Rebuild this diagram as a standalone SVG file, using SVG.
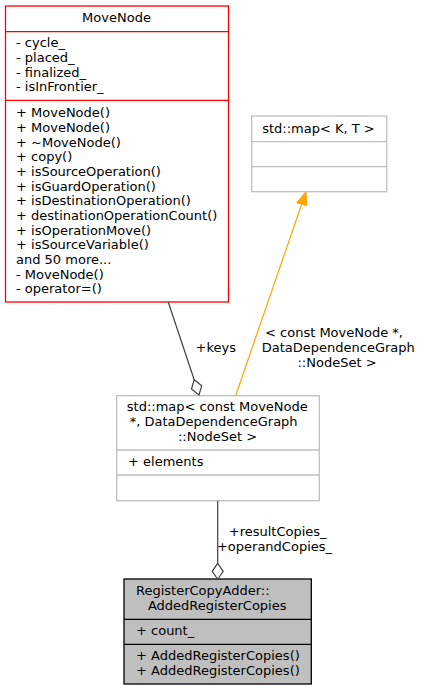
<svg xmlns="http://www.w3.org/2000/svg" width="421" height="691" viewBox="0 0 421 691">
<style>
text{font-family:"DejaVu Sans","Liberation Sans",sans-serif;font-size:13px;fill:#000}
.c{text-anchor:middle}
.box{fill:#fff}
.red{stroke:#ff0000;stroke-width:1.3}
.gray{stroke:#bfbfbf;stroke-width:1.3}
.blk{stroke:#000;stroke-width:1.3}
.e{stroke:#404040;stroke-width:1.2;fill:none}
</style>
<rect width="421" height="691" fill="#fff"/>
<g id="MoveNode">
<rect class="box red" x="5.5" y="6" width="223" height="296"/>
<line class="red" x1="5.5" y1="31.7" x2="228.5" y2="31.7"/>
<line class="red" x1="5.5" y1="100.3" x2="228.5" y2="100.3"/>
<text class="c" x="116.5" y="22">MoveNode</text>
<text x="16" y="47.2">- cycle_</text>
<text x="16" y="61.9">- placed_</text>
<text x="16" y="76.5">- finalized_</text>
<text x="16" y="91.2">- isInFrontier_</text>
<text x="16" y="117.2">+ MoveNode()</text>
<text x="16" y="131.9">+ MoveNode()</text>
<text x="16" y="146.5">+ ~MoveNode()</text>
<text x="16" y="161.2">+ copy()</text>
<text x="16" y="175.9">+ isSourceOperation()</text>
<text x="16" y="190.5">+ isGuardOperation()</text>
<text x="16" y="205.2">+ isDestinationOperation()</text>
<text x="16" y="219.9">+ destinationOperationCount()</text>
<text x="16" y="234.5">+ isOperationMove()</text>
<text x="16" y="249.2">+ isSourceVariable()</text>
<text x="16" y="263.9">and 50 more...</text>
<text x="16" y="278.5">- MoveNode()</text>
<text x="16" y="293.2">- operator=()</text>
</g>
<g id="StdMapKT">
<rect class="box gray" x="251.7" y="116" width="135" height="75.7"/>
<line class="gray" x1="251.7" y1="141.7" x2="386.7" y2="141.7"/>
<line class="gray" x1="251.7" y1="166.7" x2="386.7" y2="166.7"/>
<text class="c" x="318.5" y="132.8">std::map&lt; K, T &gt;</text>
</g>
<g id="StdMapMoveNode">
<rect class="box gray" x="116.7" y="395.7" width="202.6" height="105"/>
<line class="gray" x1="116.7" y1="450" x2="319.3" y2="450"/>
<line class="gray" x1="116.7" y1="475" x2="319.3" y2="475"/>
<text class="c" x="217.3" y="411">std::map&lt; const MoveNode</text>
<text class="c" x="213.7" y="426">*, DataDependenceGraph</text>
<text class="c" x="217.5" y="441">::NodeSet &gt;</text>
<text x="128" y="466">+ elements</text>
</g>
<g id="AddedRegisterCopies">
<rect fill="#bfbfbf" class="blk" x="124" y="579" width="187.3" height="105"/>
<line class="blk" x1="124" y1="619.3" x2="311.3" y2="619.3"/>
<line class="blk" x1="124" y1="644.3" x2="311.3" y2="644.3"/>
<text x="136" y="595">RegisterCopyAdder::</text>
<text class="c" x="217.2" y="610">AddedRegisterCopies</text>
<text x="136" y="635">+ count_</text>
<text x="136" y="660">+ AddedRegisterCopies()</text>
<text x="136" y="675">+ AddedRegisterCopies()</text>
</g>
<g id="connectors">
<line class="e" x1="168.3" y1="302.3" x2="194.2" y2="379.7"/>
<polygon class="e" fill="#fff" points="194.2,379.7 201.7,385.8 199,395 191.5,389"/>
<text class="c" x="215.8" y="352">+keys</text>
<line stroke="#ffa500" stroke-width="1.2" x1="235.7" y1="395.5" x2="301.7" y2="204.2"/>
<polygon fill="#ffa500" stroke="#ffa500" stroke-width="1" points="306,191.7 306.7,205.7 296.7,202.7"/>
<text class="c" x="334" y="337">&lt; const MoveNode *,</text>
<text class="c" x="338.3" y="351.8">DataDependenceGraph</text>
<text class="c" x="337" y="366.6">::NodeSet &gt;</text>
<line class="e" x1="217.7" y1="501" x2="217.7" y2="563.3"/>
<polygon class="e" fill="#fff" points="217.7,563.3 223.2,571.3 217.7,579.3 212.2,571.3"/>
<text class="c" x="277.7" y="536">+resultCopies_</text>
<text class="c" x="274.5" y="551">+operandCopies_</text>
</g>
</svg>
